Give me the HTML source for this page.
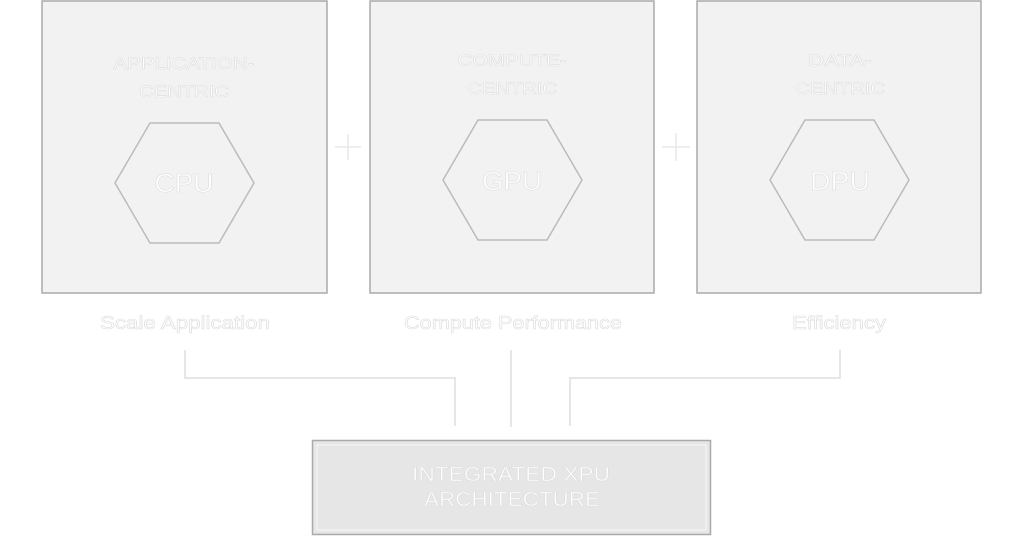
<!DOCTYPE html>
<html><head><style>body{margin:0;background:#fff}svg{display:block}</style></head><body>
<svg width="1024" height="536" viewBox="0 0 1024 536" xmlns="http://www.w3.org/2000/svg" font-family="Liberation Sans, sans-serif">
<g fill="#f2f2f2" stroke="#aaa" stroke-width="1.5">
<rect x="42" y="1" width="285" height="292"/>
<rect x="370" y="1" width="284" height="292"/>
<rect x="697" y="1" width="284" height="292"/>
</g>
<g fill="none" stroke="#bbb" stroke-width="1.5">
<polygon points="150,123 219,123 254,183 219,243 150,243 115,183"/>
<polygon points="478,120 547,120 582,180 547,240 478,240 443,180"/>
<polygon points="805,120 874,120 909,180 874,240 805,240 770,180"/>
</g>
<g stroke="#e8e8e8" stroke-width="1.5">
<line x1="335" y1="147" x2="361" y2="147"/><line x1="348" y1="134" x2="348" y2="160"/>
<line x1="662" y1="147" x2="690" y2="147"/><line x1="676" y1="133" x2="676" y2="161"/>
</g>
<g fill="none" stroke="#e6e6e6" stroke-width="2">
<polyline points="185,350 185,378 455,378 455,426"/>
<line x1="511" y1="350" x2="511" y2="427"/>
<polyline points="840,350 840,378 570,378 570,426"/>
</g>
<rect x="312.5" y="440.5" width="398" height="94" fill="#e6e6e6" stroke="#aaa" stroke-width="1.5"/>
<rect x="317" y="445" width="389" height="85" fill="none" stroke="#f8f8f8" stroke-width="1"/>
<g fill="#fff" stroke="#ddd" stroke-width="0.6" text-anchor="middle" lengthAdjust="spacingAndGlyphs">
<text x="184" y="69" font-size="17" textLength="141" lengthAdjust="spacingAndGlyphs">APPLICATION-</text>
<text x="184" y="97" font-size="17" textLength="90" lengthAdjust="spacingAndGlyphs">CENTRIC</text>
<text x="512" y="66" font-size="17" textLength="109" lengthAdjust="spacingAndGlyphs">COMPUTE-</text>
<text x="512" y="94" font-size="17" textLength="90" lengthAdjust="spacingAndGlyphs">CENTRIC</text>
<text x="840" y="66" font-size="17" textLength="64" lengthAdjust="spacingAndGlyphs">DATA-</text>
<text x="840" y="94" font-size="17" textLength="90" lengthAdjust="spacingAndGlyphs">CENTRIC</text>
<text x="184" y="192" font-size="26" textLength="59" lengthAdjust="spacingAndGlyphs">CPU</text>
<text x="512" y="190" font-size="26" textLength="60" lengthAdjust="spacingAndGlyphs">GPU</text>
<text x="840" y="190" font-size="26" textLength="60" lengthAdjust="spacingAndGlyphs">DPU</text>
<text x="185" y="329" font-size="18" textLength="170" lengthAdjust="spacingAndGlyphs">Scale Application</text>
<text x="513" y="329" font-size="18" textLength="218" lengthAdjust="spacingAndGlyphs">Compute Performance</text>
<text x="839" y="329" font-size="18" textLength="94" lengthAdjust="spacingAndGlyphs">Efficiency</text>
<text x="511" y="481" font-size="20" textLength="198" lengthAdjust="spacingAndGlyphs">INTEGRATED XPU</text>
<text x="512" y="506" font-size="20" textLength="176" lengthAdjust="spacingAndGlyphs">ARCHITECTURE</text>
</g>
</svg>
</body></html>
